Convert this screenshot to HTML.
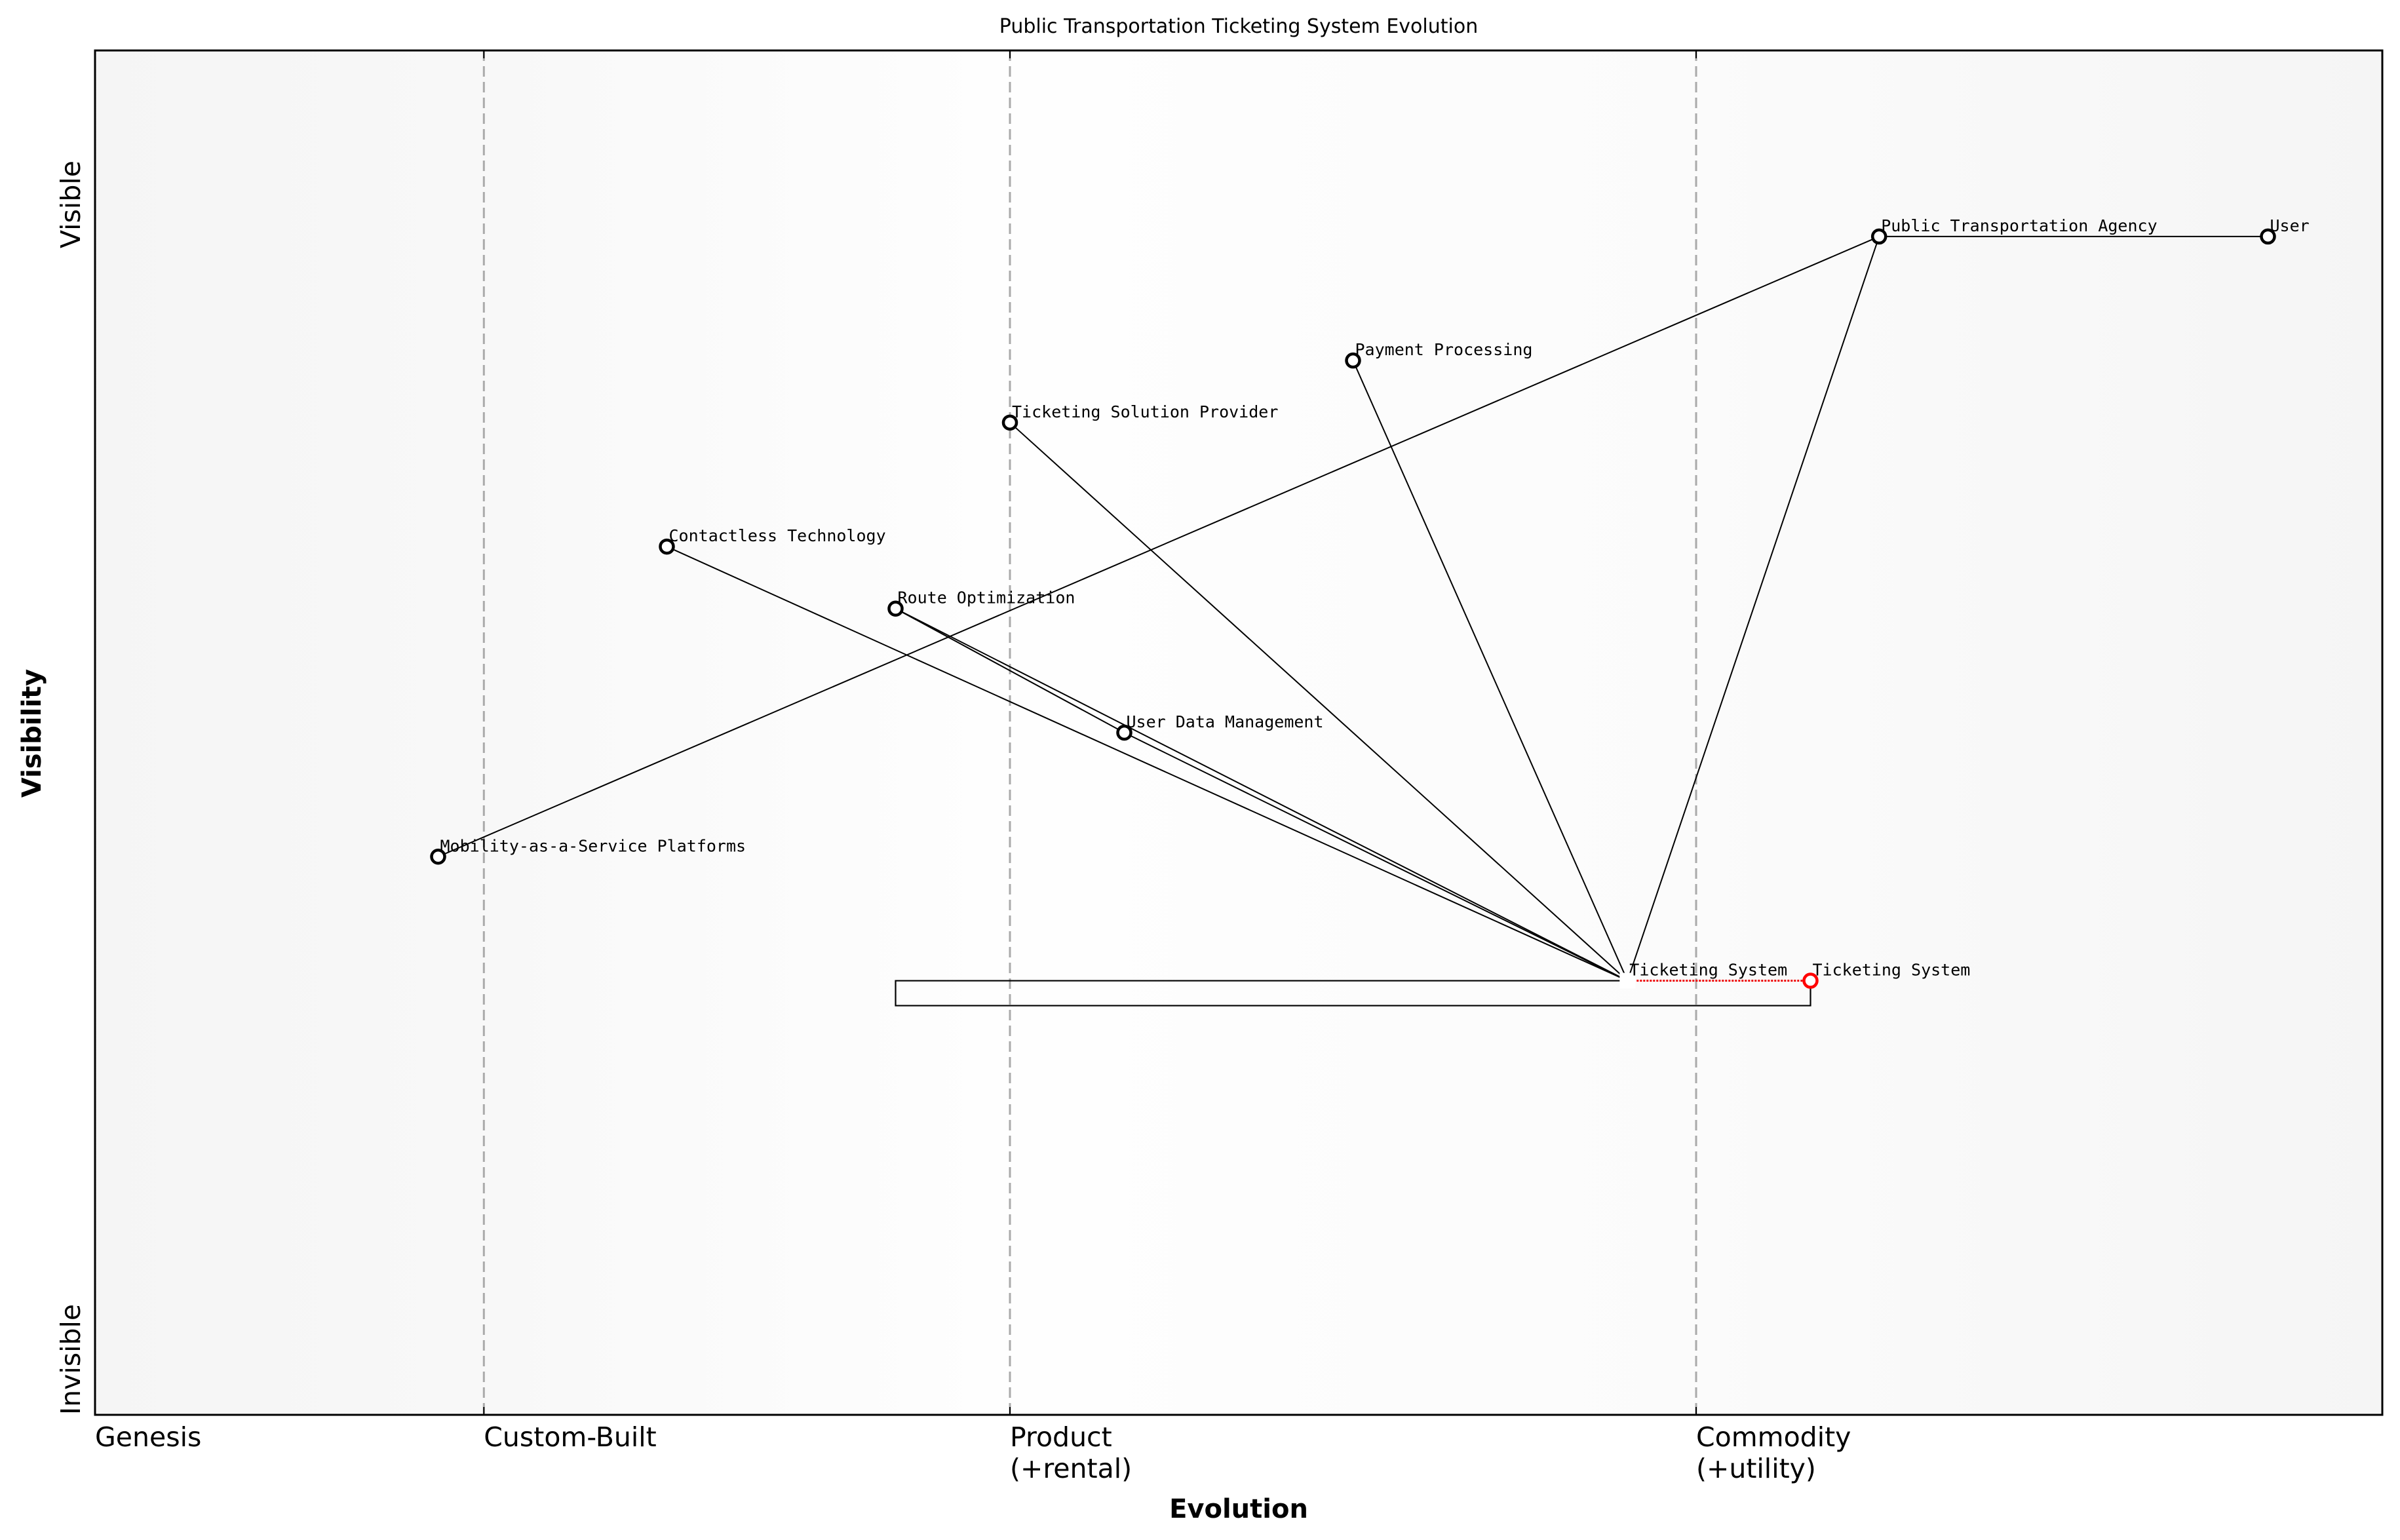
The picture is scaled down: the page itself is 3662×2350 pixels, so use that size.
<!DOCTYPE html>
<html><head><meta charset="utf-8"><style>
html,body{margin:0;padding:0;background:#fff;}
svg{display:block;font-family:"DejaVu Sans","Liberation Sans",sans-serif;}
</style></head><body>
<svg id="chart" width="3662" height="2350" viewBox="0 0 3662 2350" xmlns="http://www.w3.org/2000/svg">
<defs>
<linearGradient id="bg" x1="0" x2="1" y1="0" y2="0">
<stop offset="0" stop-color="#f5f5f5"/>
<stop offset="0.17" stop-color="#f8f8f8"/>
<stop offset="0.4" stop-color="#fefefe"/>
<stop offset="0.7" stop-color="#fbfbfb"/>
<stop offset="1" stop-color="#f5f5f5"/>
</linearGradient>
</defs>
<text x="1890" y="50" font-size="30" text-anchor="middle">Public Transportation Ticketing System Evolution</text>
<rect x="145" y="77" width="3490" height="2082" fill="url(#bg)"/>
<g id="grid"></g>
<g id="links"></g>
<g id="nodes"></g>
<rect x="145" y="77" width="3490" height="2082" fill="none" stroke="#000" stroke-width="3"/>
<g id="ticks"></g>
<text x="1890" y="2316" font-size="40" font-weight="bold" text-anchor="middle">Evolution</text>
<text transform="translate(62,1119) rotate(-90)" font-size="40" font-weight="bold" text-anchor="middle">Visibility</text>
<text transform="translate(122,312) rotate(-90)" font-size="41" text-anchor="middle">Visible</text>
<text transform="translate(122,2159) rotate(-90)" font-size="41" text-anchor="start">Invisible</text>
</svg>
<script>
const NS="http://www.w3.org/2000/svg";
const stageNames=["Genesis","Custom-Built","Product","Commodity"];
const stageSub=["","","(+rental)","(+utility)"];
const stagePos=[0,0.17,0.4,0.7];
const nodeNames=["User","Public Transportation Agency","Payment Processing","Ticketing Solution Provider","Contactless Technology","Route Optimization","User Data Management","Mobility-as-a-Service Platforms","Ticketing System"];
const nodeX=[0.95,0.78,0.55,0.40,0.25,0.35,0.45,0.15,0.67];
const nodeY=[0.9,0.9,0.8,0.75,0.65,0.6,0.5,0.4,0.3];
const linkFrom=[0,1,1,2,3,4,5,6,5];
const linkTo=[1,7,8,8,8,8,8,8,6];
const evoNode=[8];
const evoTargetX=[0.75];
const pipelineX=[0.35,0.75];

const L=145,T=77,W=3490,H=2082;
function sx(v){return L+v*W;}
function sy(v){return T+H-((v+0.05)/1.1)*H;}
function mk(tag,attrs,parent){const e=document.createElementNS(NS,tag);for(const k in attrs)e.setAttribute(k,attrs[k]);parent.appendChild(e);return e;}
const grid=document.getElementById('grid'),ticks=document.getElementById('ticks'),links=document.getElementById('links'),nodes=document.getElementById('nodes');

stagePos.forEach((p,i)=>{
  if(i>0){
    const ln=mk('line',{x1:sx(p),x2:sx(p),y1:T,y2:T+H,stroke:'#aaa','stroke-width':3,'stroke-dasharray':'16 8'},grid);
    
    
    const t1=mk('line',{x1:sx(p),x2:sx(p),y1:T,y2:T+12,stroke:'#000','stroke-width':2},ticks);
    
    
    const t2=mk('line',{x1:sx(p),x2:sx(p),y1:T+H-12,y2:T+H,stroke:'#000','stroke-width':2},ticks);
    
    
  }
  const tx=mk('text',{x:sx(p),y:2207,'font-size':41},ticks);
  tx.textContent=stageNames[i];
  
  
  if(stageSub[i]){
    const t2=mk('text',{x:sx(p),y:2255,'font-size':41},ticks);
    t2.textContent=stageSub[i];
    
    
  }
});

const ts=evoNode[0];
const py=sy(nodeY[ts]);
const pb=mk('polyline',{points:`${sx(nodeX[ts])},${py} ${sx(pipelineX[0])},${py} ${sx(pipelineX[0])},${py+38} ${sx(pipelineX[1])},${py+38} ${sx(pipelineX[1])},${py}`,fill:'none',stroke:'#000','stroke-width':2.2},links);



linkFrom.forEach((a,i)=>{
  const b=linkTo[i];
  const ln=mk('line',{x1:sx(nodeX[a]),y1:sy(nodeY[a]),x2:sx(nodeX[b]),y2:sy(nodeY[b]),stroke:'#000','stroke-width':2},links);
  
  
});

evoNode.forEach((n,i)=>{
  const ev=mk('line',{x1:sx(nodeX[n])+14,y1:sy(nodeY[n]),x2:sx(evoTargetX[i]),y2:sy(nodeY[n]),stroke:'#e00','stroke-width':3,'stroke-dasharray':'3 2'},links);
  
  
  const c=mk('circle',{cx:sx(evoTargetX[i]),cy:sy(nodeY[n]),r:10,fill:'#fff',stroke:'#f00','stroke-width':4.5},nodes);
  
  
  const t=mk('text',{x:sx(evoTargetX[i])+3,y:sy(nodeY[n])-8,'font-size':25,'font-family':'"DejaVu Sans Mono","Liberation Mono",monospace'},nodes);
  t.textContent=nodeNames[n];
  
  
});

nodeNames.forEach((nm,i)=>{
  const x=sx(nodeX[i]),y=sy(nodeY[i]);
  if(i===ts){
    const r=mk('rect',{x:x-12,y:y-12,width:24,height:24,fill:'#fff'},nodes);
    
    
  } else {
    const c=mk('circle',{cx:x,cy:y,r:10,fill:'#fff',stroke:'#000','stroke-width':4.5},nodes);
    
    
  }
  const t=mk('text',{x:x+3,y:y-8,'font-size':25,'font-family':'"DejaVu Sans Mono","Liberation Mono",monospace'},nodes);
  t.textContent=nm;
  
  
});
</script>
</body></html>
